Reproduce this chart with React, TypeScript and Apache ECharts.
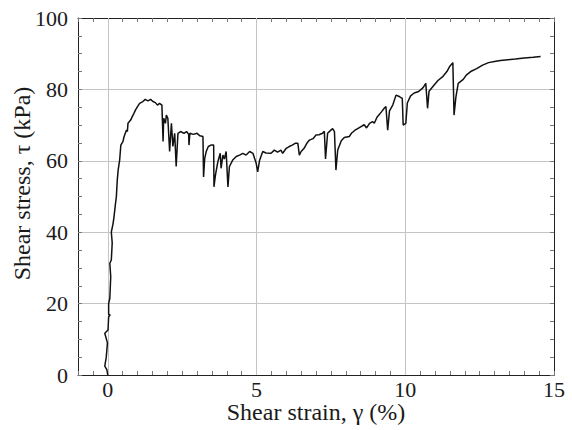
import React, { useEffect, useRef } from "react";
import * as echarts from "echarts";

// Shear strain γ (%) and shear stress τ (kPa)
const strain: number[] = [
  0, -0.03, -0.1, -0.05, -0.01, -0.1, 0.01, 0.03, 0.08, 0.03, 0.03, 0.07, 0.1, 0.07, 0.12, 0.15, 0.12, 0.18, 0.21, 0.26,
  0.29, 0.32, 0.35, 0.4, 0.44, 0.51, 0.55, 0.59, 0.63, 0.66, 0.68, 0.77, 0.82, 0.88, 0.93, 1.0, 1.07, 1.18, 1.26, 1.35,
  1.44, 1.52, 1.6, 1.67, 1.74, 1.82, 1.86, 1.88, 1.94, 1.97, 2.02, 2.08, 2.14, 2.19, 2.25, 2.3, 2.36, 2.45, 2.56, 2.65,
  2.72, 2.73, 2.76, 2.88, 3.0, 3.1, 3.2, 3.22, 3.26, 3.31, 3.38, 3.47, 3.56, 3.57, 3.62, 3.7, 3.78, 3.81, 3.87, 3.92,
  3.98, 4.04, 4.09, 4.2, 4.32, 4.43, 4.54, 4.65, 4.77, 4.88, 4.99, 5.04, 5.1, 5.21, 5.32, 5.49, 5.6, 5.71, 5.82, 5.88,
  6.0, 6.1, 6.2, 6.3, 6.39, 6.44, 6.5, 6.6, 6.7, 6.78, 6.9, 7.0, 7.1, 7.22, 7.28, 7.32, 7.39, 7.5, 7.56, 7.62,
  7.67, 7.73, 7.85, 7.95, 8.12, 8.2, 8.3, 8.4, 8.5, 8.62, 8.7, 8.8, 8.9, 8.96, 9.05, 9.2, 9.3, 9.35, 9.41, 9.47,
  9.58, 9.69, 9.8, 9.9, 9.93, 10.02, 10.07, 10.18, 10.3, 10.45, 10.6, 10.69, 10.75, 10.8, 10.95, 11.1, 11.25, 11.4, 11.5, 11.6,
  11.64, 11.7, 11.78, 11.95, 12.05, 12.2, 12.4, 12.6, 12.8, 13.0, 13.2, 13.45, 13.7, 14.0, 14.3, 14.55,
];
const stress: number[] = [
  0, 1.5, 2.5, 5, 9, 11.7, 12.6, 16.3, 16.8, 17, 20, 21.5, 27.5, 31.3, 32.2, 37, 40, 42.5, 44.3, 48,
  50, 54.6, 57.4, 60.2, 64.4, 65.4, 66.8, 67.7, 68.6, 68.2, 70.5, 71.4, 72.3, 73.3, 74.2, 75.2, 76.1, 76.6, 77.2, 76.8,
  77.2, 76.6, 76.3, 75.6, 76.1, 75.6, 65.4, 71.9, 70.5, 72.8, 71.9, 62.6, 70.5, 64, 67.7, 58.4, 67.7, 68.2, 67.7, 68.2,
  67.4, 64.4, 67.7, 67.4, 67.7, 67, 66.8, 55.5, 60.7, 62.6, 64, 64.4, 64.4, 52.7, 56, 59.7, 62.1, 57.9, 61.6, 60.5,
  62.6, 52.7, 58.4, 60.2, 61.2, 61.6, 62.1, 61.6, 62.6, 62.1, 59.3, 56.9, 60, 62.6, 62.2, 62.1, 63, 62.4, 63, 62.1,
  63.5, 64, 64.4, 64.9, 64.9, 61.6, 62.6, 63.5, 65, 65.8, 66.2, 67.2, 67.3, 67.7, 68.3, 60.5, 67.7, 68.6, 69, 68.2,
  57.4, 63, 65.6, 66.5, 66.8, 67.8, 68.5, 69, 69.5, 70.1, 69.2, 70.5, 71, 70.5, 72.2, 73.7, 74.8, 75.2, 68.6, 74,
  75.6, 78.4, 78, 77.5, 70, 70.5, 76.2, 78.2, 79, 79.4, 80.5, 81.7, 74.7, 79.5, 81, 82.5, 83.5, 85, 86.5, 87.5,
  72.8, 77.7, 81.7, 82.8, 84, 85, 85.8, 86.8, 87.5, 87.8, 88.1, 88.3, 88.5, 88.8, 89, 89.2,
];
const xMajorTicks: number[] = [0, 5, 10, 15];
const xGridLines: number[] = [0, 5, 10];

export default function App() {
  const ref = useRef<HTMLDivElement>(null);
  useEffect(() => {
    if (!ref.current) return;
    const chart = echarts.init(ref.current, null, { renderer: "svg" });
    const font = "'Liberation Serif', 'DejaVu Serif', serif";
    const axisLineStyle = { color: "#222", width: 1 };
    const tickStyle = { color: "#777", width: 1 };
    const data = strain.map((x, i) => [x, stress[i]]);
    chart.setOption({
      animation: false,
      backgroundColor: "#fff",
      grid: { left: 78, right: 18, top: 18, bottom: 55, containLabel: false, outerBoundsMode: "none" },
      xAxis: [
        {
          type: "value",
          min: -1,
          max: 15,
          interval: 0.5,
          name: "Shear strain, γ (%)",
          nameLocation: "middle",
          nameGap: 25,
          nameMoveOverlap: false,
          nameTextStyle: { fontFamily: font, fontSize: 24, color: "#1a1a1a" },
          axisLine: { show: true, onZero: false, lineStyle: axisLineStyle },
          axisTick: { show: true, inside: true, length: 4, lineStyle: tickStyle },
          axisLabel: {
            show: true,
            margin: 3,
            fontFamily: font,
            fontSize: 22,
            color: "#1a1a1a",
            formatter: (v: number) => (xMajorTicks.includes(v) ? String(v) : ""),
          },
          splitLine: { show: false },
        },
        {
          type: "value",
          min: -1,
          max: 15,
          interval: 0.5,
          position: "top",
          axisLine: { show: true, onZero: false, lineStyle: axisLineStyle },
          axisTick: { show: true, inside: true, length: 4, lineStyle: tickStyle },
          axisLabel: { show: false },
          splitLine: { show: false },
        },
      ],
      yAxis: [
        {
          type: "value",
          min: 0,
          max: 100,
          interval: 20,
          name: "Shear stress, τ (kPa)",
          nameLocation: "middle",
          nameGap: 44,
          nameMoveOverlap: false,
          nameTextStyle: { fontFamily: font, fontSize: 24, color: "#1a1a1a", padding: [0, 0, 0, 26] },
          axisLine: { show: true, onZero: false, lineStyle: axisLineStyle },
          axisTick: { show: true, inside: true, length: 4, lineStyle: tickStyle },
          minorTick: { show: true, splitNumber: 4, length: 4, lineStyle: tickStyle },
          axisLabel: { margin: 10, fontFamily: font, fontSize: 22, color: "#1a1a1a" },
          splitLine: { show: true, lineStyle: { color: "#c4c4c4", width: 1 } },
        },
        {
          type: "value",
          min: 0,
          max: 100,
          interval: 20,
          position: "right",
          axisLine: { show: true, onZero: false, lineStyle: axisLineStyle },
          axisTick: { show: true, inside: true, length: 4, lineStyle: tickStyle },
          minorTick: { show: true, splitNumber: 4, length: 4, lineStyle: tickStyle },
          axisLabel: { show: false },
          splitLine: { show: false },
        },
      ],
      series: [
        {
          type: "line",
          xAxisIndex: 0,
          yAxisIndex: 0,
          data,
          showSymbol: false,
          symbol: "none",
          lineStyle: { color: "#111", width: 1.5 },
          silent: true,
          markLine: {
            silent: true,
            symbol: "none",
            label: { show: false },
            lineStyle: { color: "#c4c4c4", width: 1, type: "solid" },
            data: xGridLines.map((v) => ({ xAxis: v })),
            z: 1,
          },
        },
      ],
    });
    return () => chart.dispose();
  }, []);
  return <div ref={ref} style={{ position: "fixed", left: 0, top: 0, width: 572, height: 430 }} />;
}
